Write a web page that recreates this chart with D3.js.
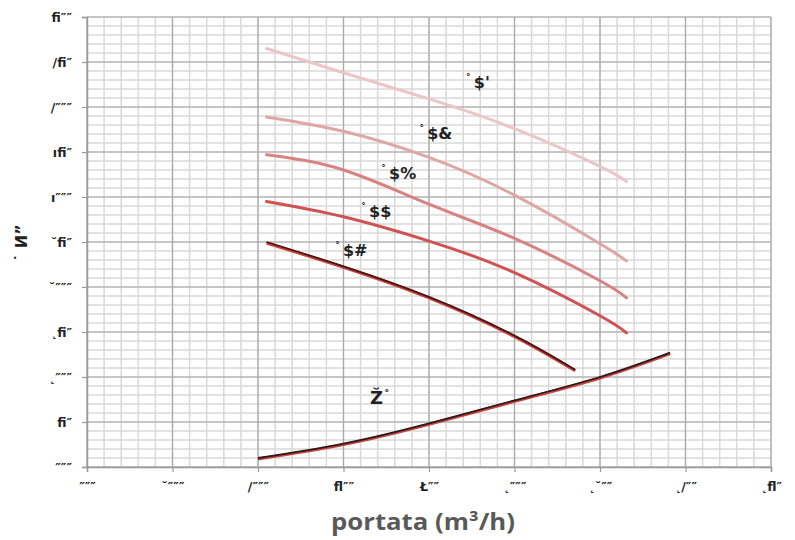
<!DOCTYPE html>
<head>
  <meta charset="utf-8">
  <style>
    body { margin: 0; background: #fff; }
    svg text { font-family: "DejaVu Sans", sans-serif; }
  </style>
</head>
<body>
  <div id="chart"></div>
  <script src="https://d3js.org/d3.v7.min.js"></script>
  <script>

    var width = 795,
        height = 540,
        margin = {top: 17, right: 24, bottom: 73, left: 87};

    // ticks (labels kept exactly as they show in the picture)
    var xTicks = [0, 200, 400, 600, 800, 1000, 1200, 1400, 1600];
    var xTickLabels = ["\u2033\u2033\u2033", "\u02d8\u2033\u2033\u2033", "/\u2033\u2033\u2033", "\ufb02\u2033\u2033", "\u0141\u2033\u2033",
                       "\u02db\u2033\u2033\u2033", "\u02db\u02d8\u2033\u2033", "\u02db/\u2033\u2033", "\u02db\ufb02\u2033"];
    var yTicks = [0, 50, 100, 150, 200, 250, 300, 350, 400, 450, 500];
    var yTickLabels = ["\u2033\u2033\u2033", "\ufb01\u2033", "\u02db\u2033\u2033\u2033", "\u02db\ufb01\u2033", "\u02d8\u2033\u2033\u2033",
                       "\u02d8\ufb01\u2033", "\u0131\u2033\u2033\u2033", "\u0131\ufb01\u2033", "/\u2033\u2033\u2033", "/\ufb01\u2033", "\ufb01\u2033\u2033"];

    // curves
    var flow1 = [420, 600, 800, 1000, 1200, 1262];
    var head1 = [465, 438, 409, 376, 334, 317];
    var flow2 = [420, 600, 800, 1000, 1200, 1262];
    var head2 = [389, 373, 344, 302, 248, 229];
    var flow3 = [420, 600, 800, 1000, 1200, 1262];
    var head3 = [347, 330, 292, 254, 207, 188];
    var flow4 = [420, 600, 800, 1000, 1200, 1262];
    var head4 = [295, 278, 251, 216, 168, 149];
    var flow5 = [420, 600, 800, 1000, 1142];
    var head5 = [250, 223, 189, 146, 108];
    var flowB = [400, 600, 800, 1000, 1200, 1364];
    var headB = [10, 26, 48.5, 74, 100, 127];

    var curveLabels = ["$'", "$&", "$%", "$$", "$#"];
    var labelFlow = [886, 777, 688, 641, 580];
    var labelHead = [421, 364, 320, 278, 234];

    var svg = d3.select("#chart").append("svg")
      .attr("width", width)
      .attr("height", height);

    var x = d3.scaleLinear().domain([0, 1600]).range([margin.left, width - margin.right]);
    var y = d3.scaleLinear().domain([0, 500]).range([height - margin.bottom, margin.top]);

    // grid - minor first then major
    var grid = svg.append("g");
    grid.selectAll(".vminor")
      .data(d3.range(0, 1601, 40))
      .enter().append("line")
        .attr("x1", d => x(d)).attr("x2", d => x(d))
        .attr("y1", y(0)).attr("y2", y(500))
        .style("stroke", "#d9d9d9").style("stroke-width", 1.5);
    grid.selectAll(".hminor")
      .data(d3.range(0, 501, 10))
      .enter().append("line")
        .attr("y1", d => y(d)).attr("y2", d => y(d))
        .attr("x1", x(0)).attr("x2", x(1600))
        .style("stroke", "#d9d9d9").style("stroke-width", 1.5);
    grid.selectAll(".vmajor")
      .data(xTicks)
      .enter().append("line")
        .attr("x1", d => x(d)).attr("x2", d => x(d))
        .attr("y1", y(0)).attr("y2", y(500))
        .style("stroke", "#a8a8a8").style("stroke-width", 1.2);
    grid.selectAll(".hmajor")
      .data(yTicks)
      .enter().append("line")
        .attr("y1", d => y(d)).attr("y2", d => y(d))
        .attr("x1", x(0)).attr("x2", x(1600))
        .style("stroke", "#a8a8a8").style("stroke-width", 1.2);

    // axes
    var xAxis = svg.append("g")
      .attr("transform", "translate(0," + y(0) + ")")
      .call(d3.axisBottom(x).tickValues(xTicks).tickSize(5).tickPadding(10)
        .tickFormat((d, i) => xTickLabels[i]));
    var yAxis = svg.append("g")
      .attr("transform", "translate(" + x(0) + ",0)")
      .call(d3.axisLeft(y).tickValues(yTicks).tickSize(5).tickPadding(10)
        .tickFormat((d, i) => yTickLabels[i]));

    [xAxis, yAxis].forEach(function(a) {
      a.select(".domain").style("stroke", "#999").style("stroke-width", 1.5);
      a.selectAll(".tick line").style("stroke", "#999").style("stroke-width", 1.2);
      a.selectAll(".tick text")
        .style("font-family", "DejaVu Sans")
        .style("font-weight", "bold")
        .style("font-size", "12.5px")
        .style("fill", "#222");
    });

    var line = d3.line()
      .x(d => x(d[0]))
      .y(d => y(d[1]))
      .curve(d3.curveNatural);

    function pts(f, h) {
      return f.map((v, i) => [v, h[i]]);
    }

    var curves = [
      {data: pts(flow1, head1), color: "#ebc6c6"},
      {data: pts(flow2, head2), color: "#dfa6a6"},
      {data: pts(flow3, head3), color: "#d98282"},
      {data: pts(flow4, head4), color: "#cf5353"}
    ];

    svg.selectAll(".curve")
      .data(curves)
      .enter().append("path")
        .attr("d", d => line(d.data))
        .style("fill", "none")
        .style("stroke", d => d.color)
        .style("stroke-width", 3)
        .style("stroke-linecap", "round");

    // dark curves with a red line just under them
    [pts(flow5, head5), pts(flowB, headB)].forEach(function(d, i) {
      svg.append("path")
        .attr("d", line(d))
        .attr("transform", "translate(0,1)")
        .style("fill", "none")
        .style("stroke", "#c9433d")
        .style("stroke-width", 3);
      svg.append("path")
        .attr("d", line(d))
        .style("fill", "none")
        .style("stroke", i == 0 ? "#4a1414" : "#2a1a1a")
        .style("stroke-width", 1.8);
    });

    // curve labels
    var lab = svg.selectAll(".lab")
      .data(curveLabels)
      .enter().append("text")
        .attr("x", (d, i) => x(labelFlow[i]))
        .attr("y", (d, i) => y(labelHead[i]))
        .style("fill", "#222")
        .style("font-weight", "bold");
    lab.append("tspan")
      .style("font-size", "10px")
      .attr("dy", -6)
      .text("\u02da");
    lab.append("tspan")
      .attr("dx", 3)
      .attr("dy", 6)
      .style("font-size", "16px")
      .text(d => d);

    var bl = svg.append("text")
      .attr("x", x(662))
      .attr("y", y(70))
      .style("fill", "#222")
      .style("font-weight", "bold");
    bl.append("tspan").style("font-size", "18px").text("\u017d");
    bl.append("tspan").style("font-size", "11px").attr("dy", -6).attr("dx", 1).text("\u02da");

    // axis titles
    svg.append("text")
      .attr("x", 423)
      .attr("y", 530)
      .attr("text-anchor", "middle")
      .attr("textLength", 184)
      .attr("lengthAdjust", "spacingAndGlyphs")
      .style("font-family", "Open Sans")
      .style("font-weight", "bold")
      .style("font-size", "23px")
      .style("fill", "#595959")
      .text("portata (m\u00b3/h)");

    svg.append("text")
      .attr("transform", "translate(27," + 243 + ") rotate(-90)")
      .attr("text-anchor", "middle")
      .style("font-weight", "bold")
      .style("font-size", "16px")
      .style("fill", "#222")
      .text("\u02d9 \u0418\u201d");

  </script>
</body>
